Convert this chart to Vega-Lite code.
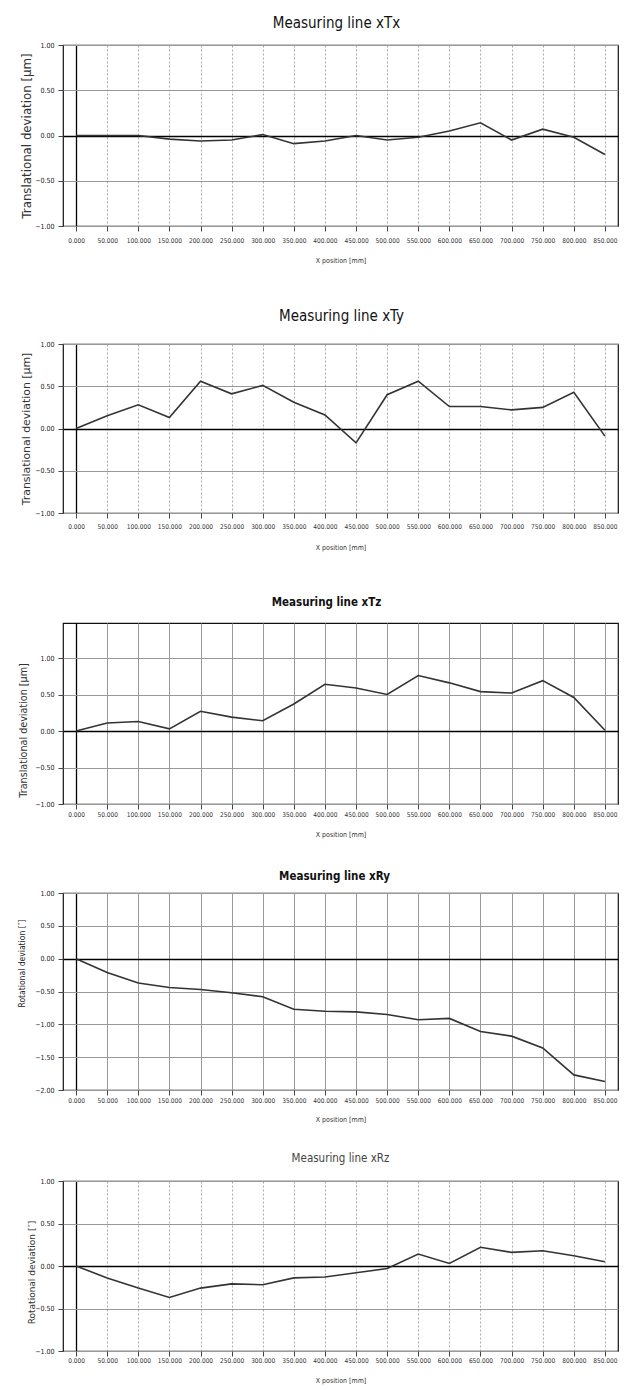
{
  "$schema": "https://vega.github.io/schema/vega-lite/v6.json",
  "padding": {"left": 14, "top": 15, "right": 0, "bottom": 0},
  "spacing": 0,
  "background": "white",
  "config": {
    "view": {"stroke": "#111", "strokeWidth": 1.2},
    "axis": {
      "domain": false,
      "labelFont": "DejaVu Sans Condensed",
      "labelFontSize": 7,
      "labelColor": "#222",
      "tickColor": "#444",
      "tickSize": 5,
      "titleColor": "#333",
      "titleFontWeight": "normal"
    },
    "axisX": {
      "labelAngle": 0, "labelFontSize": 6.5, "labelColor": "#333", "labelOverlap": false, "labelFlush": false,
      "gridColor": {"condition": {"test": "datum.value === 0", "value": "#000"}, "value": "#aaa"},
      "gridWidth": {"condition": {"test": "datum.value === 0", "value": 1.3}, "value": 1},
      "gridDash": {"condition": {"test": "datum.value === 0", "value": []}, "value": [2, 2]}
    },
    "axisY": {
      "gridColor": {"condition": {"test": "datum.value === 0", "value": "#000"}, "value": "#999"},
      "gridWidth": {"condition": {"test": "datum.value === 0", "value": 1.7}, "value": 1}
    },
    "title": {"font": "DejaVu Sans Condensed", "color": "#111", "frame": "group", "anchor": "middle", "baseline": "alphabetic"}
  },
  "datasets": {
    "xTx": [
      {"pos": 0, "dev": 0.0}, {"pos": 50, "dev": 0.0}, {"pos": 100, "dev": 0.0}, {"pos": 150, "dev": -0.04},
      {"pos": 200, "dev": -0.06}, {"pos": 250, "dev": -0.05}, {"pos": 300, "dev": 0.01}, {"pos": 350, "dev": -0.09},
      {"pos": 400, "dev": -0.06}, {"pos": 450, "dev": 0.0}, {"pos": 500, "dev": -0.05}, {"pos": 550, "dev": -0.02},
      {"pos": 600, "dev": 0.05}, {"pos": 650, "dev": 0.14}, {"pos": 700, "dev": -0.05}, {"pos": 750, "dev": 0.07},
      {"pos": 800, "dev": -0.02}, {"pos": 850, "dev": -0.21}
    ],
    "xTy": [
      {"pos": 0, "dev": 0.0}, {"pos": 50, "dev": 0.15}, {"pos": 100, "dev": 0.28}, {"pos": 150, "dev": 0.13},
      {"pos": 200, "dev": 0.56}, {"pos": 250, "dev": 0.41}, {"pos": 300, "dev": 0.51}, {"pos": 350, "dev": 0.31},
      {"pos": 400, "dev": 0.16}, {"pos": 450, "dev": -0.17}, {"pos": 500, "dev": 0.40}, {"pos": 550, "dev": 0.56},
      {"pos": 600, "dev": 0.26}, {"pos": 650, "dev": 0.26}, {"pos": 700, "dev": 0.22}, {"pos": 750, "dev": 0.25},
      {"pos": 800, "dev": 0.43}, {"pos": 850, "dev": -0.09}
    ],
    "xTz": [
      {"pos": 0, "dev": 0.0}, {"pos": 50, "dev": 0.11}, {"pos": 100, "dev": 0.13}, {"pos": 150, "dev": 0.03},
      {"pos": 200, "dev": 0.27}, {"pos": 250, "dev": 0.19}, {"pos": 300, "dev": 0.14}, {"pos": 350, "dev": 0.37},
      {"pos": 400, "dev": 0.64}, {"pos": 450, "dev": 0.59}, {"pos": 500, "dev": 0.50}, {"pos": 550, "dev": 0.76},
      {"pos": 600, "dev": 0.66}, {"pos": 650, "dev": 0.54}, {"pos": 700, "dev": 0.52}, {"pos": 750, "dev": 0.69},
      {"pos": 800, "dev": 0.46}, {"pos": 850, "dev": 0.01}
    ],
    "xRy": [
      {"pos": 0, "dev": 0.0}, {"pos": 50, "dev": -0.21}, {"pos": 100, "dev": -0.37}, {"pos": 150, "dev": -0.44},
      {"pos": 200, "dev": -0.47}, {"pos": 250, "dev": -0.52}, {"pos": 300, "dev": -0.58}, {"pos": 350, "dev": -0.77},
      {"pos": 400, "dev": -0.80}, {"pos": 450, "dev": -0.81}, {"pos": 500, "dev": -0.85}, {"pos": 550, "dev": -0.93},
      {"pos": 600, "dev": -0.91}, {"pos": 650, "dev": -1.11}, {"pos": 700, "dev": -1.18}, {"pos": 750, "dev": -1.36},
      {"pos": 800, "dev": -1.77}, {"pos": 850, "dev": -1.87}
    ],
    "xRz": [
      {"pos": 0, "dev": 0.0}, {"pos": 50, "dev": -0.14}, {"pos": 100, "dev": -0.26}, {"pos": 150, "dev": -0.37},
      {"pos": 200, "dev": -0.26}, {"pos": 250, "dev": -0.21}, {"pos": 300, "dev": -0.22}, {"pos": 350, "dev": -0.14},
      {"pos": 400, "dev": -0.13}, {"pos": 450, "dev": -0.08}, {"pos": 500, "dev": -0.03}, {"pos": 550, "dev": 0.14},
      {"pos": 600, "dev": 0.03}, {"pos": 650, "dev": 0.22}, {"pos": 700, "dev": 0.16}, {"pos": 750, "dev": 0.18},
      {"pos": 800, "dev": 0.12}, {"pos": 850, "dev": 0.05}
    ]
  },
  "vconcat": [
    {
      "width": 555, "height": 181,
      "title": {"text": "Measuring line xTx", "fontSize": 15, "fontWeight": "normal", "offset": 10, "dx": -4},
      "data": {"name": "xTx"},
      "mark": {"type": "line", "color": "#333", "strokeWidth": 1.6},
      "encoding": {
        "x": {"field": "pos", "type": "quantitative", "scale": {"domain": [-21, 871], "nice": false, "zero": false},
          "axis": {"values": [0,50,100,150,200,250,300,350,400,450,500,550,600,650,700,750,800,850], "format": ".3f", "title": "X position [mm]",
            "titleFont": "DejaVu Sans Condensed", "titleFontSize": 7, "titleBaseline": "alphabetic", "titleY": 36,
            "labelPadding": 6, "minExtent": 81, "maxExtent": 81}},
        "y": {"field": "dev", "type": "quantitative", "scale": {"domain": [-1, 1], "nice": false},
          "axis": {"values": [-1,-0.5,0,0.5,1], "format": ".2f", "title": "Translational deviation [µm]", "titleFont": "DejaVu Sans", "titleFontSize": 11.8,
            "titleBaseline": "middle", "titleX": -37, "labelPadding": 4, "minExtent": 48, "maxExtent": 48}}
      }
    },
    {
      "width": 555, "height": 169,
      "title": {"text": "Measuring line xTy", "fontSize": 15, "fontWeight": "normal", "offset": 16, "dx": 1},
      "data": {"name": "xTy"},
      "mark": {"type": "line", "color": "#333", "strokeWidth": 1.6},
      "encoding": {
        "x": {"field": "pos", "type": "quantitative", "scale": {"domain": [-21, 871], "nice": false, "zero": false},
          "axis": {"values": [0,50,100,150,200,250,300,350,400,450,500,550,600,650,700,750,800,850], "format": ".3f", "title": "X position [mm]",
            "titleFont": "DejaVu Sans Condensed", "titleFontSize": 7, "titleBaseline": "alphabetic", "titleY": 36,
            "labelPadding": 5.5, "minExtent": 81, "maxExtent": 81}},
        "y": {"field": "dev", "type": "quantitative", "scale": {"domain": [-1, 1], "nice": false},
          "axis": {"values": [-1,-0.5,0,0.5,1], "format": ".2f", "title": "Translational deviation [µm]", "titleFont": "DejaVu Sans", "titleFontSize": 10.9,
            "titleBaseline": "middle", "titleX": -37, "labelPadding": 4, "minExtent": 48, "maxExtent": 48}}
      }
    },
    {
      "width": 555, "height": 181,
      "title": {"text": "Measuring line xTz", "fontSize": 11.5, "fontWeight": "bold", "offset": 15, "dx": -14},
      "data": {"name": "xTz"},
      "mark": {"type": "line", "color": "#333", "strokeWidth": 1.6},
      "encoding": {
        "x": {"field": "pos", "type": "quantitative", "scale": {"domain": [-21, 871], "nice": false, "zero": false},
          "axis": {"values": [0,50,100,150,200,250,300,350,400,450,500,550,600,650,700,750,800,850], "format": ".3f", "title": "X position [mm]",
            "titleFont": "DejaVu Sans Condensed", "titleFontSize": 7, "titleBaseline": "alphabetic", "titleY": 32,
            "labelPadding": 2, "minExtent": 64, "maxExtent": 64,
            "gridColor": {"condition": {"test": "datum.value === 0", "value": "#000"}, "value": "#999"},
            "gridDash": {"condition": {"test": "datum.value === 0", "value": []}, "value": []}}},
        "y": {"field": "dev", "type": "quantitative", "scale": {"domain": [-1, 1.48], "nice": false},
          "axis": {"values": [-1,-0.5,0,0.5,1], "format": ".2f", "title": "Translational deviation [µm]", "titleFont": "DejaVu Sans", "titleFontSize": 9.6,
            "titleBaseline": "middle", "titleX": -40, "titleY": 107, "labelPadding": 4, "minExtent": 48, "maxExtent": 48}}
      }
    },
    {
      "width": 555, "height": 197,
      "title": {"text": "Measuring line xRy", "fontSize": 11.5, "fontWeight": "bold", "offset": 7, "dx": -6},
      "data": {"name": "xRy"},
      "mark": {"type": "line", "color": "#333", "strokeWidth": 1.6},
      "encoding": {
        "x": {"field": "pos", "type": "quantitative", "scale": {"domain": [-21, 871], "nice": false, "zero": false},
          "axis": {"values": [0,50,100,150,200,250,300,350,400,450,500,550,600,650,700,750,800,850], "format": ".3f", "title": "X position [mm]",
            "titleFont": "DejaVu Sans Condensed", "titleFontSize": 7, "titleBaseline": "alphabetic", "titleY": 31,
            "labelPadding": 2, "minExtent": 60, "maxExtent": 60,
            "gridColor": {"condition": {"test": "datum.value === 0", "value": "#000"}, "value": "#999"},
            "gridDash": {"condition": {"test": "datum.value === 0", "value": []}, "value": []}}},
        "y": {"field": "dev", "type": "quantitative", "scale": {"domain": [-2, 1], "nice": false},
          "axis": {"values": [-2,-1.5,-1,-0.5,0,0.5,1], "format": ".2f", "title": "Rotational deviation [″]", "titleFont": "DejaVu Sans Condensed", "titleFontSize": 8.5,
            "titleColor": "#222", "titleBaseline": "middle", "titleX": -42, "titleY": 70, "labelPadding": 4, "minExtent": 48, "maxExtent": 48}}
      }
    },
    {
      "width": 555, "height": 170,
      "title": {"text": "Measuring line xRz", "fontSize": 11.5, "fontWeight": "normal", "offset": 13, "dx": 0, "color": "#444"},
      "data": {"name": "xRz"},
      "mark": {"type": "line", "color": "#333", "strokeWidth": 1.6},
      "encoding": {
        "x": {"field": "pos", "type": "quantitative", "scale": {"domain": [-21, 871], "nice": false, "zero": false},
          "axis": {"values": [0,50,100,150,200,250,300,350,400,450,500,550,600,650,700,750,800,850], "format": ".3f", "title": "X position [mm]",
            "titleFont": "DejaVu Sans Condensed", "titleFontSize": 7, "titleBaseline": "alphabetic", "titleY": 31,
            "labelPadding": 1, "minExtent": 36, "maxExtent": 36}},
        "y": {"field": "dev", "type": "quantitative", "scale": {"domain": [-1, 1], "nice": false},
          "axis": {"values": [-1,-0.5,0,0.5,1], "format": ".2f", "title": "Rotational deviation [″]", "titleFont": "DejaVu Sans", "titleFontSize": 9,
            "titleBaseline": "middle", "titleX": -32, "titleY": 91, "labelPadding": 4, "minExtent": 48, "maxExtent": 48}}
      }
    }
  ]
}
